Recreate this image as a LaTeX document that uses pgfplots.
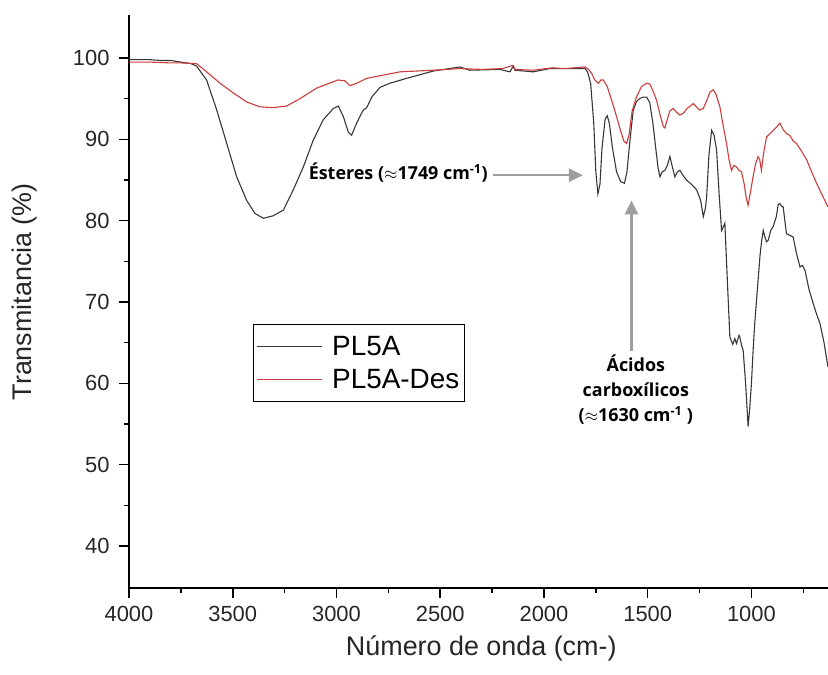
\documentclass[border=0pt]{standalone}
\usepackage{fontspec}
\setmainfont{Liberation Sans}
\newfontfamily\annfont{Open Sans}
\usepackage{pgfplots}
\pgfplotsset{compat=1.18}
\usetikzlibrary{arrows.meta}
\definecolor{specblack}{RGB}{55,55,55}
\definecolor{specred}{RGB}{205,60,60}
\definecolor{arrowgray}{RGB}{158,158,158}

\begin{document}
\begin{tikzpicture}
\begin{axis}[
  at={(0,0)}, anchor=south west,
  scale only axis, width=699bp, height=573bp,
  x dir=reverse,
  xmin=631, xmax=4000, ymin=34.84, ymax=105.29,
  axis x line=bottom, axis y line=left,
  axis line style={-, line width=1.8bp, black},
  every outer x axis line/.append style={-},
  every outer y axis line/.append style={-},
  xtick={1000,1500,...,4000},
  minor xtick={750,1250,...,3750},
  ytick={40,50,...,100},
  minor ytick={45,55,...,95},
  tick align=outside,
  major tick length=10bp, minor tick length=5bp,
  every tick/.style={black, line width=1.6bp},
  /pgf/number format/1000 sep={},
  /pgf/number format/assume math mode=true,
  tick label style={font=\fontsize{22}{24}\selectfont, color=black!85},
  xticklabel style={yshift=-5bp},
  yticklabel style={xshift=-6bp},
  xlabel={Número de onda (cm-)},
  ylabel={Transmitancia (\%)},
  label style={font=\fontsize{27}{30}\selectfont, color=black!85},
  xlabel style={at={(axis description cs:0.504,0)}, anchor=center, yshift=-60bp},
  ylabel style={at={(axis description cs:0,0.517)}, anchor=center, yshift=104bp},
  legend image code/.code={\draw[#1] (0bp,0bp) -- (65bp,0bp);},
  legend style={at={(axis description cs:0.177,0.461)}, anchor=north west,
    draw=black, line width=0.8bp, font=\fontsize{28}{30}\selectfont,
    inner xsep=3bp, inner ysep=10bp, row sep=8bp,
    /tikz/every odd column/.append style={column sep=8bp}},
  legend cell align=left,
]
\addplot[specblack, line width=1.1bp] coordinates {
(4000,99.8) (3900,99.8) (3850,99.7) (3800,99.7) (3750,99.5) (3700,99.3) (3674,99.0)
(3626,97.3) (3577,93.6) (3529,89.5) (3481,85.4) (3433,82.5) (3393,80.9) (3353,80.3)
(3305,80.6) (3256,81.3) (3208,83.8) (3160,86.6) (3112,89.9) (3064,92.4) (3015,93.8)
(2991,94.1) (2967,92.8) (2943,90.9) (2927,90.5) (2903,92.0) (2871,93.6) (2854,93.9)
(2830,95.2) (2790,96.4) (2742,96.9) (2662,97.5) (2533,98.4) (2405,98.9) (2357,98.5)
(2212,98.6) (2164,98.3) (2148,99.0) (2140,98.5) (2052,98.3) (1972,98.7) (1826,98.7)
(1802,98.7) (1790,98.3) (1775,96.9) (1760,92) (1750,86) (1740,83.3) (1730,84.5)
(1720,89) (1705,92.5) (1695,92.9) (1685,92.0) (1670,89) (1650,86) (1630,84.8)
(1612,84.6) (1600,86) (1585,90) (1570,93.5) (1555,94.6) (1540,95.0) (1520,95.2)
(1505,95.2) (1490,94.5) (1475,92) (1462,89.1) (1450,86.5) (1441,85.4) (1430,86.0)
(1417,86.2) (1405,86.8) (1393,87.9) (1380,86.5) (1369,85.4) (1357,86.0) (1345,86.2)
(1330,85.6) (1313,85.0) (1290,84.5) (1264,83.8) (1245,82.5) (1232,80.5) (1222,81.5)
(1216,82.9) (1205,88) (1192,91.1) (1180,90.5) (1168,88.7) (1155,83) (1144,78.8)
(1136,79.2) (1128,79.7) (1115,72) (1104,65.7) (1090,64.8) (1080,65.5) (1072,64.9)
(1060,65.9) (1056,65.7) (1046,64.5) (1040,64.1) (1028,60) (1016,54.7) (1008,57)
(1000,60.0) (992,64) (984,67.4) (970,72) (959,75.6) (951,77.5) (943,78.8) (935,78.0)
(927,77.4) (919,77.6) (907,78.8) (895,79.3) (880,80.5) (871,82.0) (863,82.1)
(855,81.8) (847,81.7) (839,80.0) (831,78.4) (815,78.2) (799,78.0) (783,76)
(766,74.3) (754,74.5) (742,73.9) (722,71.5) (702,69.8) (686,68.5) (670,67.4)
(650,65) (631,62.0)
};
\addlegendentry{PL5A}
\addplot[specred, line width=1.1bp] coordinates {
(4000,99.5) (3900,99.5) (3800,99.4) (3750,99.4) (3674,99.3) (3626,98.3) (3561,96.9)
(3497,95.7) (3433,94.6) (3369,94.0) (3305,93.9) (3240,94.1) (3176,95.0) (3096,96.3)
(2993,97.3) (2960,97.2) (2935,96.6) (2903,96.9) (2854,97.5) (2694,98.3) (2533,98.5)
(2405,98.7) (2300,98.6) (2200,98.7) (2148,99.1) (2140,98.6) (2050,98.5) (1960,98.8)
(1900,98.7) (1802,98.9) (1785,98.6) (1770,98.1) (1755,97.3) (1738,96.9) (1725,97.3)
(1714,97.3) (1695,96.5) (1670,94.5) (1650,92.8) (1630,91) (1615,89.8) (1602,89.5)
(1590,90.5) (1575,93.5) (1554,95.2) (1530,96.5) (1505,96.9) (1490,96.8) (1475,96)
(1457,94.8) (1440,93) (1425,91.6) (1417,91.4) (1405,92.5) (1393,93.5) (1377,93.8)
(1360,93.3) (1345,93.0) (1329,93.2) (1310,93.8) (1295,94.1) (1280,94.4) (1265,94.0)
(1250,93.6) (1232,93.8) (1215,94.8) (1200,95.8) (1184,96.1) (1170,95.5) (1152,94.0)
(1135,91.5) (1120,89.5) (1108,87.5) (1096,86.2) (1084,86.8) (1072,86.6) (1060,86.2)
(1048,86.0) (1035,84.5) (1025,82.8) (1016,81.9) (1005,83.5) (992,85.4) (980,87.0)
(968,87.9) (960,87.5) (952,86.2) (940,88.5) (927,90.3) (911,90.7) (895,91.1)
(879,91.5) (863,92.0) (855,91.6) (847,91.2) (831,90.7) (815,90.5) (799,89.8)
(783,89.5) (760,88.6) (734,87.5) (710,86.0) (686,84.6) (660,83.2) (631,81.7)
};
\addlegendentry{PL5A-Des}
% annotations
\draw[arrowgray, line width=2.6bp, -{Triangle[length=14bp,width=13bp]}]
  (axis cs:2246,85.6) -- (axis cs:1812,85.6);
\node[anchor=east, font=\annfont\bfseries\fontsize{18}{20}\selectfont, inner sep=0pt]
  at (axis cs:2270,85.86) {Ésteres ($\approx$1749 cm\textsuperscript{-1})};
\draw[arrowgray, line width=2.6bp, -{Triangle[length=14bp,width=13bp]}]
  (axis cs:1578,64.0) -- (axis cs:1578,82.5);
\node[anchor=center, align=center, font=\annfont\bfseries\fontsize{18}{25}\selectfont, inner sep=0pt]
  at (axis cs:1557,59.2) {Ácidos\\carboxílicos\\($\approx$1630 cm\textsuperscript{-1} )};
\end{axis}
\pgfresetboundingbox
\path (-129bp,-87bp) rectangle (699bp,588bp);
\end{tikzpicture}
\end{document}
